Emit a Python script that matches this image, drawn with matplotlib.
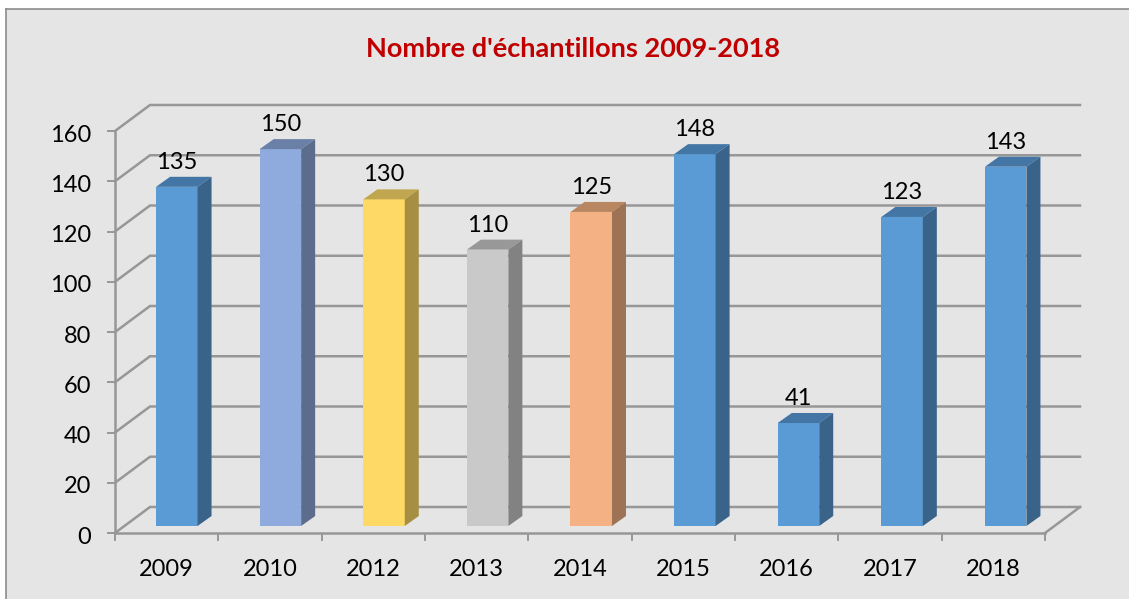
import matplotlib
matplotlib.use('Agg')
import matplotlib.pyplot as plt
from matplotlib.patches import Rectangle, Polygon
from matplotlib.transforms import ScaledTranslation
import numpy as np

years = ['2009', '2010', '2012', '2013', '2014', '2015', '2016', '2017', '2018']
samples = [135, 150, 130, 110, 125, 148, 41, 123, 143]
y_ticks = [0, 20, 40, 60, 80, 100, 120, 140, 160]

blue = ('#5b9bd5', '#4375a5', '#3a6389')
face_colors = [blue, ('#8faadc', '#6b80a6', '#5b6c8c'), ('#ffd966', '#c0a64e', '#a68f42'),
               ('#c9c9c9', '#989898', '#828282'), ('#f4b183', '#b98662', '#9e7355'),
               blue, blue, blue, blue]

W, H = 1129, 599
plt.rcParams['font.family'] = ['Lato', 'DejaVu Sans']
fig = plt.figure(figsize=(W / 100, H / 100), dpi=100, facecolor='white')

# grey panel with a thin border on the left and top only
fig.add_artist(Rectangle((6 / W, 0), 1, 1 - 9 / H, transform=fig.transFigure, fc='#e5e5e5', ec='none', zorder=-3))
fig.add_artist(plt.Line2D([6 / W, 6 / W], [0, 1 - 9 / H], transform=fig.transFigure, color='#8c8c8c', lw=1.2, zorder=-2))
fig.add_artist(plt.Line2D([6 / W, 1], [1 - 9 / H, 1 - 9 / H], transform=fig.transFigure, color='#8c8c8c', lw=1.2, zorder=-2))

# front plane of the fake 3D box: x 115-1045, y 533-131 in pixels
ax = fig.add_axes([115 / W, 1 - 533 / H, 930 / W, 402 / H])
ax.patch.set_visible(False)
ax.set_xlim(0, 9)
ax.set_ylim(0, 160)

px = 9 / 930  # one pixel in x units
py = 160 / 402  # one pixel in y units
grid = '#979797'

# depth of the box, and of each column
box_dx, box_dy = 35 * px, 26 * py
bar_dx, bar_dy = 14 * px, 10 * py
floor = 7 * py

for t in y_ticks:
    ax.plot([0, box_dx, 9 + box_dx], [t, t + box_dy, t + box_dy], color=grid, lw=1.8,
            clip_on=False, zorder=1, solid_joinstyle='miter')
ax.plot([9, 9 + box_dx], [0, box_dy], color=grid, lw=1.8, clip_on=False, zorder=1)

# bars
centers = np.arange(len(years)) * 1.0027 + 0.5 + 0.098
width = 41.5 * px
bars = ax.bar(centers, samples, width=width, bottom=floor, color=[c[0] for c in face_colors],
              zorder=3, clip_on=False)
for b, v, c in zip(bars, samples, face_colors):
    x0, x1 = b.get_x(), b.get_x() + b.get_width()
    top = v + floor
    ax.add_patch(Polygon([(x0, top), (x1, top), (x1 + bar_dx, top + bar_dy), (x0 + bar_dx, top + bar_dy)],
                         fc=c[1], ec='none', zorder=3, clip_on=False))
    ax.add_patch(Polygon([(x1, floor), (x1 + bar_dx, floor + bar_dy), (x1 + bar_dx, top + bar_dy), (x1, top)],
                         fc=c[2], ec='none', zorder=3, clip_on=False))
    ax.annotate(str(v), (b.get_x() + width / 2, top), xytext=(0, 13), textcoords='offset points',
                ha='center', va='baseline', fontsize=17, color='black', zorder=4, annotation_clip=False)

# axes
for s in ['top', 'right']:
    ax.spines[s].set_visible(False)
for s in ['left', 'bottom']:
    ax.spines[s].set_color(grid)
    ax.spines[s].set_linewidth(1.8)
    ax.spines[s].set_zorder(2)
ax.set_yticks(y_ticks)
ax.set_xticks(np.arange(10))
ax.set_xticklabels([])
ax.set_xticks(np.arange(9) + 0.5, minor=True)
ax.set_xticklabels(years, minor=True)
ax.tick_params(axis='x', which='major', length=6, width=1.4, color=grid)
ax.tick_params(axis='x', which='minor', length=0, pad=19, labelsize=17)
ax.tick_params(axis='y', length=6, width=1.4, color=grid, pad=11, labelsize=17)

# y labels sit about 2 px lower than the tick
shift = ScaledTranslation(0, -1.5 / 72, fig.dpi_scale_trans)
for lab in ax.get_yticklabels():
    lab.set_transform(lab.get_transform() + shift)

fig.text(573 / W, 1 - 49 / H, "Nombre d'échantillons 2009-2018", ha='center', va='center',
         fontsize=19.5, fontweight='bold', color='#c00000')

fig.savefig('out.png', dpi=100, facecolor=fig.get_facecolor())
